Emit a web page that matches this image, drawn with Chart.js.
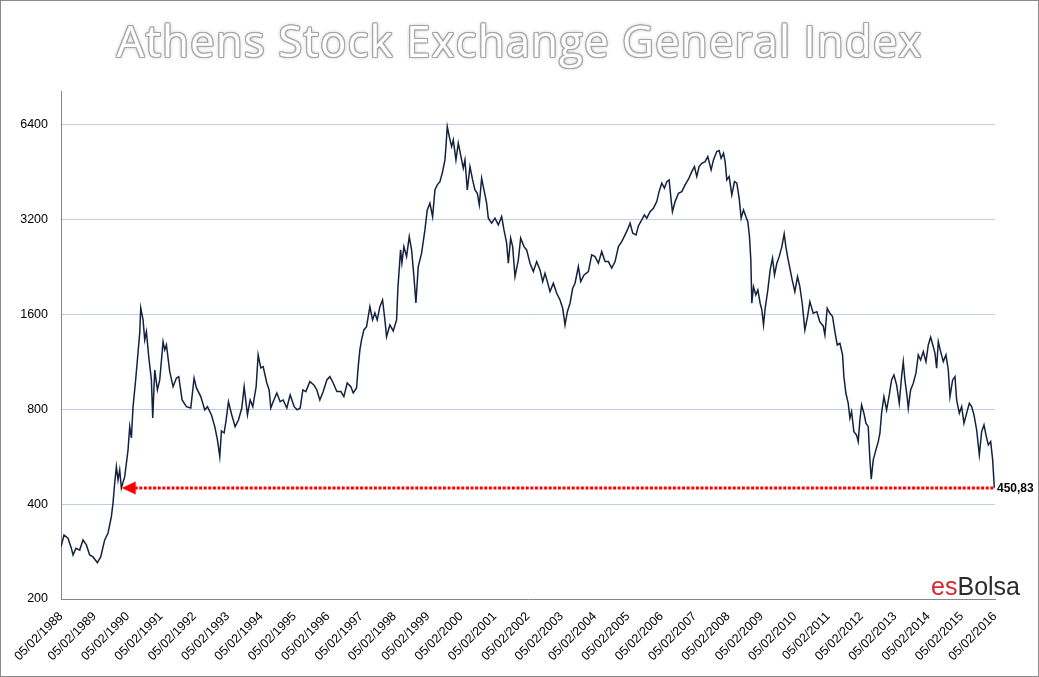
<!DOCTYPE html>
<html><head><meta charset="utf-8">
<script src="https://cdn.jsdelivr.net/npm/chart.js@4.4.1/dist/chart.umd.min.js"></script>
<style>
html,body{margin:0;padding:0;background:#fff;}
#wrap{position:relative;width:1039px;height:677px;overflow:hidden;}
#cwrap{position:absolute;left:0;top:0;width:1039px;height:677px;}
#frame{position:absolute;left:0;top:0;width:1039px;height:677px;box-sizing:border-box;border:1px solid #8a8a8a;pointer-events:none;}
#title{position:absolute;left:0;top:18px;width:1039px;text-align:center;font-family:'Open Sans',sans-serif;font-size:44px;line-height:44px;letter-spacing:1px;color:#fff;
  text-shadow:-1px -1px 0 #a6a6a6, 1px -1px 0 #a6a6a6, -1px 1px 0 #a6a6a6, 1px 1px 0 #a6a6a6, 0 -1px 0 #a6a6a6, 0 1px 0 #a6a6a6, -1px 0 0 #a6a6a6, 1px 0 0 #a6a6a6, 0 0 4px rgba(0,0,0,0.35);white-space:pre;}
#logo{position:absolute;right:19px;top:574px;font-family:'Liberation Sans',Arial,sans-serif;font-size:25px;line-height:25px;white-space:pre;}
</style></head><body>
<div id="wrap">
<div id="cwrap"><canvas id="c"></canvas></div>
<div id="title">Athens Stock Exchange General Index</div>
<div id="logo"><span style="color:#d7262e">es</span><span style="color:#2b2b2b">Bolsa</span></div>
<div id="frame"></div>
</div>
<script>
// x ticks: one per year, 05/02/1988 ... 05/02/2016
const xTickLabels = ['05/02/1988','05/02/1989','05/02/1990','05/02/1991','05/02/1992','05/02/1993','05/02/1994','05/02/1995','05/02/1996','05/02/1997','05/02/1998','05/02/1999','05/02/2000','05/02/2001','05/02/2002','05/02/2003','05/02/2004','05/02/2005','05/02/2006','05/02/2007','05/02/2008','05/02/2009','05/02/2010','05/02/2011','05/02/2012','05/02/2013','05/02/2014','05/02/2015','05/02/2016'];
const yTickValues = [200, 400, 800, 1600, 3200, 6400];

// time in years since 05/02/1988
const yearsSinceStart = [0,0.09,0.21,0.31,0.36,0.45,0.56,0.66,0.76,0.86,0.96,1.09,1.19,1.31,1.41,1.51,1.56,1.61,1.66,1.71,1.76,1.81,1.91,2.01,2.06,2.11,2.16,2.23,2.29,2.36,2.39,2.46,2.51,2.56,2.63,2.71,2.75,2.81,2.89,2.96,3.06,3.11,3.16,3.26,3.36,3.46,3.53,3.63,3.76,3.89,3.99,4.06,4.19,4.31,4.39,4.51,4.61,4.69,4.76,4.81,4.89,4.95,5.02,5.12,5.22,5.32,5.42,5.49,5.59,5.67,5.75,5.85,5.91,5.99,6.06,6.17,6.24,6.29,6.36,6.47,6.57,6.66,6.77,6.87,6.99,7.08,7.17,7.25,7.34,7.46,7.58,7.67,7.76,7.86,7.97,8.06,8.16,8.27,8.39,8.48,8.58,8.69,8.76,8.86,8.91,8.96,9.01,9.08,9.16,9.26,9.34,9.41,9.48,9.56,9.64,9.71,9.76,9.86,9.96,10.06,10.10,10.18,10.22,10.28,10.36,10.44,10.51,10.58,10.64,10.71,10.81,10.91,10.98,11.06,11.14,11.21,11.28,11.36,11.44,11.51,11.54,11.58,11.64,11.71,11.76,11.84,11.91,11.98,12.06,12.11,12.18,12.26,12.34,12.41,12.48,12.54,12.61,12.68,12.76,12.81,12.91,13.01,13.11,13.21,13.28,13.36,13.41,13.48,13.54,13.61,13.71,13.78,13.88,13.96,14.06,14.16,14.26,14.36,14.44,14.51,14.58,14.66,14.76,14.86,14.96,15.04,15.11,15.18,15.26,15.34,15.41,15.51,15.58,15.68,15.81,15.91,16.01,16.11,16.21,16.31,16.41,16.51,16.61,16.71,16.81,16.91,16.98,17.06,17.14,17.24,17.31,17.41,17.49,17.56,17.66,17.76,17.86,17.93,18.01,18.09,18.16,18.23,18.29,18.33,18.41,18.51,18.61,18.71,18.81,18.91,18.99,19.06,19.13,19.21,19.31,19.39,19.49,19.56,19.66,19.73,19.79,19.86,19.91,19.96,20.03,20.11,20.19,20.26,20.33,20.39,20.46,20.53,20.59,20.64,20.68,20.71,20.76,20.83,20.89,20.96,21.01,21.06,21.11,21.19,21.26,21.33,21.39,21.46,21.53,21.61,21.68,21.73,21.79,21.86,21.92,22.00,22.08,22.15,22.22,22.30,22.38,22.45,22.55,22.66,22.75,22.85,22.90,22.97,23.05,23.13,23.20,23.27,23.35,23.43,23.47,23.53,23.60,23.65,23.70,23.77,23.85,23.90,23.95,24.00,24.07,24.13,24.20,24.25,24.29,24.35,24.43,24.50,24.55,24.60,24.67,24.75,24.83,24.90,24.97,25.05,25.13,25.20,25.25,25.30,25.37,25.40,25.47,25.55,25.63,25.70,25.77,25.85,25.93,26.00,26.07,26.15,26.20,26.25,26.30,26.37,26.45,26.53,26.60,26.65,26.73,26.80,26.85,26.93,27.00,27.07,27.15,27.23,27.30,27.37,27.45,27.53,27.60,27.67,27.73,27.80,27.87,27.93,27.98];

// Athens General Index closing levels
const indexValues = [293,319,312,290,276,290,286,308,297,276,272,261,272,308,324,365,404,467,526,477,514,450,489,595,705,649,816,970,1148,1399,1679,1538,1329,1412,1176,992,751,1067,922,992,1312,1235,1281,1054,944,1006,1016,857,816,808,1006,936,878,797,816,768,705,640,566,683,673,740,846,768,705,740,808,944,768,857,816,944,1191,1083,1093,970,922,808,846,902,846,857,808,889,816,797,808,922,911,980,956,922,857,911,992,1016,970,911,911,878,970,944,902,936,1093,1235,1329,1430,1465,1695,1538,1619,1538,1695,1780,1538,1361,1483,1419,1538,1944,2566,2333,2629,2443,2828,2566,2111,1742,2271,2505,2970,3438,3610,3274,3980,4128,4228,4549,4955,5461,6320,5876,5461,5736,4955,5600,5140,4663,4955,3980,4718,4282,3980,3884,3566,4335,3980,3610,3236,3120,3236,3081,3274,2970,2695,2328,2796,2629,2111,2385,2796,2629,2566,2328,2190,2356,2217,2035,2164,2035,1892,2011,1870,1780,1675,1483,1634,1738,1939,2011,2271,2035,2137,2190,2474,2443,2328,2534,2356,2356,2245,2356,2629,2726,2864,2970,3120,2900,2864,3058,3195,3315,3236,3395,3481,3653,3930,4179,4029,4228,4282,3698,3395,3653,3884,3930,4128,4303,4549,4718,4387,4718,4836,4893,5076,4606,4955,5266,5305,5017,5204,4893,4282,4387,3836,4228,4179,3745,3236,3438,3274,3156,2828,2385,1738,1962,1847,1915,1738,1655,1483,1675,1915,2217,2415,2137,2328,2443,2629,2885,2629,2415,2217,2061,1892,2111,1962,1738,1430,1576,1758,1615,1634,1516,1472,1378,1675,1615,1576,1412,1281,1297,1191,1016,900,836,750,787,680,663,632,740,826,778,723,705,553,480,553,595,632,672,778,878,797,889,992,1029,956,836,1016,1134,992,868,806,922,968,1042,1191,1148,1220,1134,1281,1355,1265,1206,1081,1312,1220,1134,1191,1067,878,992,1016,857,778,816,723,778,836,816,768,688,573,680,714,663,617,632,553,450.83];

// reference marker: last close, drawn back to where the index last stood there
const lastClose = indexValues[indexValues.length - 1];
const lastCloseLabel = '450,83';
const markerStart = 1.82;

const points = yearsSinceStart.map((t, i) => ({x: t, y: indexValues[i]}));

const markerPlugin = {
  id: 'marker',
  afterDatasetsDraw(chart) {
    const {ctx, chartArea: a, scales: {x, y}} = chart;
    const yy = Math.round(y.getPixelForValue(lastClose));
    const x0 = x.getPixelForValue(markerStart);
    ctx.save();
    ctx.strokeStyle = '#ff0000';
    ctx.lineWidth = 3;
    ctx.setLineDash([3, 1.6]);
    ctx.beginPath();
    ctx.moveTo(x0 + 13, yy);
    ctx.lineTo(a.right, yy);
    ctx.stroke();
    ctx.setLineDash([]);
    ctx.fillStyle = '#ff0000';
    ctx.beginPath();
    ctx.moveTo(x0, yy);
    ctx.lineTo(x0 + 14, yy - 6.5);
    ctx.lineTo(x0 + 14, yy + 6.5);
    ctx.closePath();
    ctx.fill();
    ctx.fillStyle = '#000';
    ctx.font = 'bold 12px "Liberation Sans", Arial, sans-serif';
    ctx.textBaseline = 'middle';
    ctx.textAlign = 'left';
    ctx.fillText(lastCloseLabel, a.right + 2, yy + 1);
    ctx.restore();
  }
};

const tickFont = {family: "'Liberation Sans', Arial, sans-serif", size: 12.5};

new Chart(document.getElementById('c'), {
  type: 'line',
  data: {datasets: [{
    data: points,
    borderColor: '#13233f',
    borderWidth: 1.5,
    pointRadius: 0,
    tension: 0,
    fill: false
  }]},
  options: {
    responsive: true,
    maintainAspectRatio: false,
    animation: false,
    layout: {padding: {left: 0, right: 44, top: 91, bottom: 0}},
    plugins: {legend: {display: false}, tooltip: {enabled: false}, title: {display: false}},
    scales: {
      x: {
        type: 'linear',
        min: 0,
        max: xTickLabels.length - 1,
        afterFit(s) { s.height = 78; },
        afterBuildTicks(s) { s.ticks = xTickLabels.map((_, i) => ({value: i})); },
        ticks: {
          autoSkip: false, maxRotation: 45, minRotation: 45, padding: 10,
          color: '#000', font: tickFont,
          callback: (v) => xTickLabels[v]
        },
        grid: {display: false, drawTicks: false},
        border: {display: true, color: '#868686', width: 1}
      },
      y: {
        type: 'logarithmic',
        min: 200,
        max: 8200,
        afterFit(s) { s.width = 61; },
        afterBuildTicks(s) { s.ticks = yTickValues.map(v => ({value: v})); },
        ticks: {padding: 13, color: '#000', font: tickFont, callback: (v) => String(v)},
        grid: {
          color: (c) => (c.tick && c.tick.value === 200) ? 'rgba(0,0,0,0)' : '#bccde9',
          drawTicks: false, lineWidth: 1
        },
        border: {display: true, color: '#868686', width: 1}
      }
    }
  },
  plugins: [markerPlugin]
});
</script>
</body></html>
